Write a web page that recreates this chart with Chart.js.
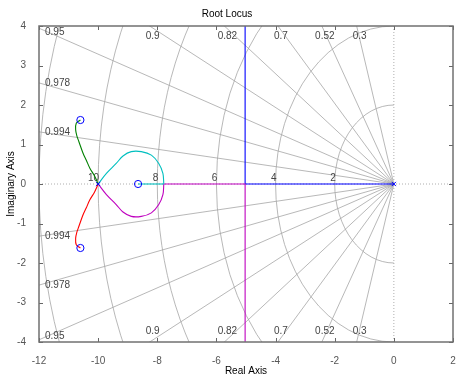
<!DOCTYPE html>
<html>
<head>
<meta charset="utf-8">
<script src="https://cdn.jsdelivr.net/npm/chart.js@4/dist/chart.umd.min.js"></script>
<style>
  body { margin: 0; background: #fff; }
  canvas { display: block; }
</style>
</head>
<body>
<canvas id="rlocus" width="458" height="378"></canvas>
<script>
// damping ratios and natural frequencies of the sgrid
var dampings = [0.3, 0.52, 0.7, 0.82, 0.9, 0.95, 0.978, 0.994]
var freqs = [2, 4, 6, 8, 10, 12]
var freqLabels = [2, 4, 6, 8, 10]

// poles (x) and zeros (o)
var poleRe = [-10, 0]
var poleIm = [0, 0]
var zeroRe = [-10.6, -10.6, -8.65]
var zeroIm = [1.62, -1.62, 0]

// branches
var greenRe = [-10, -10.12, -10.28, -10.4, -10.51, -10.65, -10.72, -10.76, -10.74, -10.6]
var greenIm = [0, 0.2, 0.4, 0.6, 0.78, 1.07, 1.22, 1.37, 1.54, 1.62]
var redRe = [-10, -10.12, -10.28, -10.4, -10.51, -10.65, -10.72, -10.76, -10.74, -10.6]
var redIm = [0, -0.2, -0.4, -0.6, -0.78, -1.07, -1.22, -1.37, -1.54, -1.62]
var cyanRe = [-10, -9.72, -9.39, -9.16, -8.88, -8.54, -8.2, -7.95, -7.81, -7.78]
var cyanIm = [0, 0.27, 0.52, 0.71, 0.82, 0.82, 0.73, 0.52, 0.27, 0]
var cyanAxisRe = [-7.78, -8.65]
var cyanAxisIm = [0, 0]
var magentaRe = [-10, -9.72, -9.39, -9.16, -8.88, -8.54, -8.2, -7.95, -7.81, -7.78]
var magentaIm = [0, -0.27, -0.52, -0.71, -0.82, -0.82, -0.73, -0.52, -0.27, 0]
var magentaAxisRe = [-7.78, -5.03, -5.03]
var magentaAxisIm = [0, 0, -5]
var blueRe = [0, -5.03, -5.03]
var blueIm = [0, 0, 5]

function pts(re, im) {
    var out = []
    for (var i = 0; i < re.length; i++) out.push({x: re[i], y: im[i]})
    return out
}

function branch(re, im, color, tension) {
    return {
        data: pts(re, im),
        showLine: true,
        borderColor: color,
        borderWidth: 1.1,
        pointRadius: 0,
        tension: tension,
        order: 1
    }
}

Chart.defaults.font.family = '"Liberation Sans", Arial, sans-serif'
Chart.defaults.font.size = 10

var sgrid = {
    id: 'sgrid',
    beforeDatasetsDraw(chart) {
        var ctx = chart.ctx, a = chart.chartArea
        var x = chart.scales.x, y = chart.scales.y
        var x0 = x.getPixelForValue(0), y0 = y.getPixelForValue(0)
        var kx = x.getPixelForValue(1) - x0, ky = y0 - y.getPixelForValue(1)
        ctx.save()
        ctx.beginPath()
        ctx.rect(a.left, a.top, a.right - a.left, a.bottom - a.top)
        ctx.clip()
        ctx.strokeStyle = '#a6a6a6'
        ctx.lineWidth = 0.8
        dampings.forEach(function (z) {
            var s = Math.sqrt(1 - z * z);
            [1, -1].forEach(function (sg) {
                ctx.beginPath()
                ctx.moveTo(x0, y0)
                ctx.lineTo(x.getPixelForValue(-30 * z), y.getPixelForValue(sg * 30 * s))
                ctx.stroke()
            })
        })
        freqs.forEach(function (w) {
            ctx.beginPath()
            ctx.ellipse(x0, y0, w * kx, w * ky, 0, Math.PI / 2, Math.PI * 1.5)
            ctx.stroke()
        })
        // zero damping / real axis, dotted
        ctx.setLineDash([1, 2])
        ctx.strokeStyle = '#999'
        ctx.beginPath()
        ctx.moveTo(a.left, y0); ctx.lineTo(a.right, y0)
        ctx.moveTo(x0, a.top); ctx.lineTo(x0, a.bottom)
        ctx.stroke()
        ctx.setLineDash([])

        // labels
        ctx.fillStyle = '#444'
        ctx.font = '10px "Liberation Sans", Arial, sans-serif'
        ctx.textBaseline = 'middle'
        dampings.forEach(function (z) {
            var s = Math.sqrt(1 - z * z)
            var xt = -y.max * z / s
            var txt = String(z)
            if (xt >= x.min) {
                ctx.textAlign = 'center'
                ctx.fillText(txt, x.getPixelForValue(xt) + 3, a.top + 10)
                ctx.fillText(txt, x.getPixelForValue(xt) + 3, a.bottom - 11)
            } else {
                var yv = -x.min * s / z
                ctx.textAlign = 'left'
                ctx.fillText(txt, a.left + 6, Math.max(y.getPixelForValue(yv), a.top + 6))
                ctx.fillText(txt, a.left + 6, Math.min(y.getPixelForValue(-yv), a.bottom - 6))
            }
        })
        ctx.textAlign = 'right'
        freqLabels.forEach(function (w) {
            ctx.fillText(String(w), x.getPixelForValue(-w) + 1, y0 - 6)
        })
        ctx.restore()
    },
    afterDraw(chart) {
        var ctx = chart.ctx, a = chart.chartArea
        var x = chart.scales.x, y = chart.scales.y
        ctx.save()
        ctx.strokeStyle = '#666'
        ctx.lineWidth = 1
        ctx.beginPath()
        x.ticks.forEach(function (t) {
            var px = Math.round(x.getPixelForValue(t.value)) + 0.5
            ctx.moveTo(px, a.bottom); ctx.lineTo(px, a.bottom - 4)
            ctx.moveTo(px, a.top); ctx.lineTo(px, a.top + 4)
        })
        y.ticks.forEach(function (t) {
            var py = Math.round(y.getPixelForValue(t.value)) + 0.5
            ctx.moveTo(a.left, py); ctx.lineTo(a.left + 4, py)
            ctx.moveTo(a.right, py); ctx.lineTo(a.right - 4, py)
        })
        ctx.stroke()
        ctx.strokeStyle = '#707070'
        ctx.lineWidth = 1.5
        ctx.strokeRect(a.left, a.top, a.right - a.left, a.bottom - a.top)
        ctx.restore()
    }
}

new Chart(document.getElementById('rlocus'), {
    type: 'scatter',
    data: {
        datasets: [
            {
                data: pts(zeroRe, zeroIm),
                pointStyle: 'circle',
                pointRadius: 3.6,
                borderColor: '#0000ff',
                backgroundColor: 'rgba(0,0,0,0)',
                borderWidth: 1,
                order: 0
            },
            {
                data: pts(poleRe, poleIm),
                pointStyle: 'crossRot',
                pointRadius: 3,
                borderColor: '#0000ff',
                borderWidth: 1,
                order: 0
            },
            branch(greenRe, greenIm, '#008000', 0.35),
            branch(redRe, redIm, '#ff0000', 0.35),
            branch(cyanRe, cyanIm, '#00bfbf', 0.35),
            branch(cyanAxisRe, cyanAxisIm, '#00bfbf', 0),
            branch(magentaRe, magentaIm, '#bf00bf', 0.35),
            branch(magentaAxisRe, magentaAxisIm, '#bf00bf', 0),
            branch(blueRe, blueIm, '#0000ff', 0)
        ]
    },
    options: {
        responsive: false,
        animation: false,
        devicePixelRatio: 1,
        layout: { padding: { left: 0, right: 4, top: 0, bottom: 0 } },
        plugins: {
            legend: { display: false },
            tooltip: { enabled: false },
            title: {
                display: true,
                text: 'Root Locus',
                color: '#000',
                font: { size: 10, weight: 'normal' },
                padding: { top: 8, bottom: 6 }
            }
        },
        scales: {
            x: {
                type: 'linear',
                min: -12,
                max: 2,
                grid: { display: false },
                border: { display: false },
                ticks: { stepSize: 2, color: '#555', padding: 5 },
                title: { display: true, text: 'Real Axis', color: '#000', padding: { top: 0, bottom: 1 } },
                afterFit: function (s) { s.height = 36; s.paddingLeft = 0; s.paddingRight = 0 }
            },
            y: {
                type: 'linear',
                min: -4,
                max: 4,
                grid: { display: false },
                border: { display: false },
                ticks: { stepSize: 1, color: '#555', padding: 5 },
                title: { display: true, text: 'Imaginary Axis', color: '#000', padding: { top: 5, bottom: 0 } },
                afterFit: function (s) { s.width = 39; s.paddingTop = 0; s.paddingBottom = 0 }
            }
        }
    },
    plugins: [sgrid]
})
</script>
</body>
</html>
